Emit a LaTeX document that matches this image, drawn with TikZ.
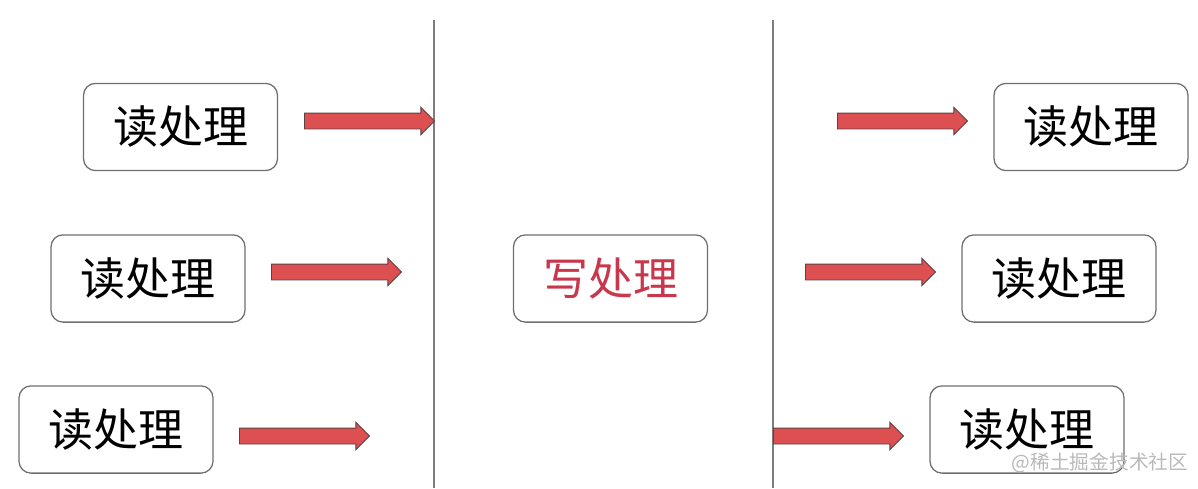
\documentclass[tikz,border=0pt]{standalone}
\usepackage{fontspec}
\newfontfamily\cjk{Noto Sans CJK SC}
\usetikzlibrary{shapes.arrows}
\definecolor{arrowred}{RGB}{220,80,82}
\definecolor{arrowedge}{RGB}{95,65,65}
\definecolor{writered}{RGB}{200,55,75}
\definecolor{boxedge}{RGB}{110,110,110}
\definecolor{lineedge}{RGB}{125,125,125}

\begin{document}
\begin{tikzpicture}[x=0.025cm,y=-0.025cm,
    proc/.style={draw=boxedge,line width=0.9pt,rounded corners=0.3cm,
      minimum width=4.85cm,minimum height=2.18cm,inner sep=0pt,
      font=\cjk\fontsize{32}{38}\selectfont},
    blockarrow/.style={single arrow,draw=arrowedge,fill=arrowred,line width=0.7pt,
      minimum height=3.25cm,minimum width=0.65cm,inner xsep=0pt,inner ysep=0.1875cm,
      single arrow head extend=0.14cm,anchor=tail}]
    \useasboundingbox (0,0) rectangle (1198,488);

    \coordinate (s1) at (434,20);
    \coordinate (e1) at (434,488);
    \coordinate (s2) at (773,20);
    \coordinate (e2) at (773,488);
    \draw[lineedge,line width=1.1pt] (s1) -- (e1);
    \draw[lineedge,line width=1.1pt] (s2) -- (e2);

    \node[proc] (r1) at (180.5,127) {读处理};
    \node[proc] (r2) at (148,278.5) {读处理};
    \node[proc] (r3) at (116,429.5) {读处理};
    \node[proc,text=writered] (w) at (610.5,278.5) {写处理};
    \node[proc] (r4) at (1091,127) {读处理};
    \node[proc] (r5) at (1059,278.5) {读处理};
    \node[proc] (r6) at (1027,429.5) {读处理};

    \node[blockarrow] (a1) at (304,121) {};
    \node[blockarrow] (a2) at (271,272) {};
    \node[blockarrow] (a3) at (239,436) {};
    \node[blockarrow] (a4) at (837,121) {};
    \node[blockarrow] (a5) at (805,272) {};
    \node[blockarrow] (a6) at (773,436) {};

    \node[text=gray!55,font=\cjk\fontsize{14}{16}\selectfont] (wm) at (1100,463) {@稀土掘金技术社区};
\end{tikzpicture}
\end{document}
